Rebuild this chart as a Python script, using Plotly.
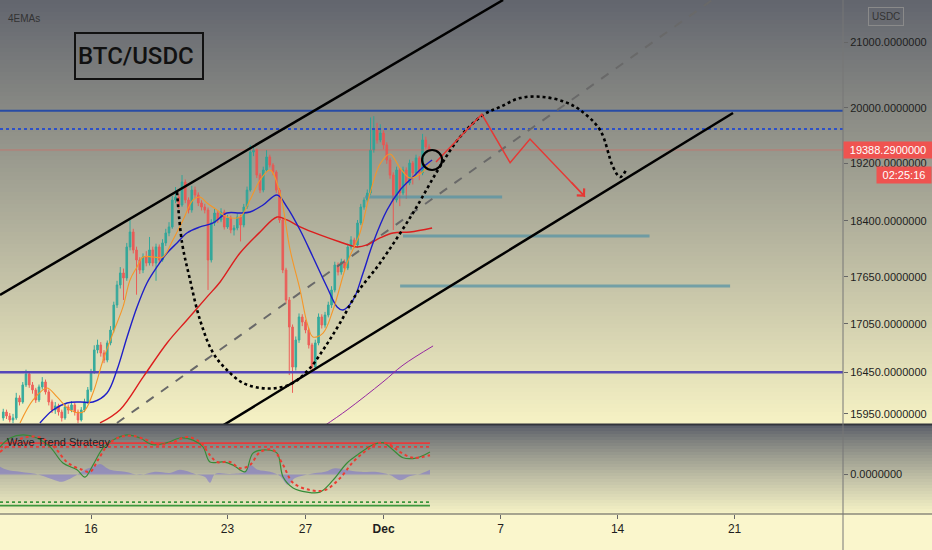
import math
import plotly.graph_objects as go

# 4h candles, x in days (16 = 16 Nov, 31 = 1 Dec)
t_first = 11.5
first_open = 15902
closes = [15972, 15925, 15878, 15902, 16139, 16091, 16295, 16427, 16295, 16235,
          16115, 16271, 16331, 16211, 16091, 15996, 16044, 15972, 15902, 16032,
          15996, 16056, 15972, 15878, 15996, 16091, 16235, 16451, 16722, 16784,
          16685, 16598, 16809, 16971, 17288, 17546, 17702, 17637, 18046, 18247,
          18006, 17873, 17741, 17913, 17833, 18006, 17833, 18046, 17873, 18100,
          18234, 18315, 18684, 18725, 18615, 18934, 18684, 18546, 18822, 18753,
          18643, 18587, 18546, 17873, 18369, 18505, 18410, 18519, 18315, 18437,
          18274, 18301, 18451, 18342, 18587, 18822, 19359, 19388, 19032, 18822,
          19103, 19288, 19174, 19075, 18822, 18410, 17741, 17352, 17009, 16512,
          16846, 17135, 17072, 16971, 16784, 16512, 16809, 17135, 17034, 17160,
          17288, 17481, 17807, 17715, 17846, 17767, 18046, 18140, 18073, 18369,
          18587, 18684, 18781, 19388, 19677, 19532, 19633, 19460, 19245, 19032,
          18684, 19103, 18781, 19103, 18920, 19202, 19061, 19274, 19061, 19532,
          19431, 19388.29]
highs = [16010, 16000, 15960, 15950, 16200, 16170, 16330, 16480, 16460, 16330,
         16260, 16300, 16390, 16360, 16240, 16120, 16090, 16070, 16000, 16070,
         16060, 16100, 16080, 16000, 16030, 16130, 16270, 16490, 16780, 16850,
         16820, 16720, 16840, 17020, 17330, 17600, 17780, 17760, 18100, 18410,
         18290, 18050, 17910, 17960, 17990, 18180, 18050, 18090, 18080, 18150,
         18290, 18380, 18740, 18864, 18770, 19032, 18970, 18720, 18880, 18870,
         18790, 18680, 18630, 18580, 18420, 18560, 18540, 18570, 18550, 18480,
         18470, 18340, 18500, 18480, 18630, 18870, 19460, 19460, 19410, 19060,
         19150, 19388, 19320, 19200, 19100, 18850, 18440, 17770, 17390, 17040,
         16890, 17180, 17170, 17100, 17000, 16810, 16850, 17180, 17170, 17200,
         17330, 17530, 17850, 17840, 17890, 17880, 18090, 18190, 18170, 18410,
         18630, 18720, 18830, 19860, 19880, 19780, 19760, 19670, 19500, 19280,
         19070, 19150, 19130, 19150, 19140, 19250, 19230, 19320, 19300, 19620,
         19580, 19470]
lows = [15870, 15890, 15850, 15840, 15880, 16050, 16070, 16270, 16260, 16190,
        16080, 16090, 16240, 16180, 16050, 15960, 15950, 15930, 15860, 15880,
        15950, 15970, 15930, 15840, 15860, 15970, 16070, 16210, 16430, 16680,
        16640, 16560, 16570, 16780, 16940, 17250, 17500, 17352, 17600, 18000,
        17960, 17420, 17690, 17700, 17790, 17800, 17790, 17600, 17830, 17850,
        18060, 18190, 18290, 18640, 18560, 18590, 18640, 18500, 18510, 18700,
        18600, 18540, 18500, 17481, 17840, 18330, 18370, 18380, 18280, 18290,
        18230, 18200, 18270, 18120, 18310, 18560, 18800, 19300, 18990, 18780,
        18790, 19070, 19140, 19030, 18780, 18370, 17700, 17300, 16415, 16200,
        16470, 16810, 17020, 16930, 16740, 16440, 16480, 16780, 16990, 17000,
        17130, 17250, 17450, 17670, 17680, 17720, 17740, 18010, 18030, 18040,
        18340, 18550, 18650, 18750, 19350, 19480, 19500, 19400, 19190, 18980,
        18274, 18650, 18600, 18750, 18700, 18890, 18900, 19030, 18960, 19030,
        19400, 19360]

# 4 EMAs
ema_fast_t = [12.36, 13.03, 13.74, 14.26, 14.92, 15.59, 16.10, 16.62, 17.13, 17.64,
              18.0, 18.36, 18.67, 19.18, 19.69, 20.20, 20.72, 21.23, 21.59, 21.95,
              22.46, 22.97, 23.64, 24.15, 24.67, 25.18, 25.69, 26.21, 26.72, 27.08,
              27.38, 27.90, 28.41, 29.13, 29.79, 30.31, 30.82, 31.33, 31.85, 32.36,
              32.87, 33.38]
ema_fast = [15843, 16115, 16259, 16151, 15996, 15972, 16199, 16598, 16933, 17263,
            17611, 17781, 17913, 17913, 17913, 18140, 18410, 18684, 18725, 18643,
            18546, 18451, 18451, 18684, 18962, 19103, 18781, 18006, 17481, 17060,
            16884, 16933, 17224, 17833, 18234, 18781, 19188, 19331, 19131, 18990,
            19046, 19188]
ema_mid_t = [13.38, 14.05, 14.77, 15.44, 16.10, 16.82, 17.33, 17.85, 18.36, 18.87,
             19.38, 19.90, 20.41, 20.92, 21.59, 22.26, 22.97, 23.64, 24.15, 24.82,
             25.54, 26.05, 26.72, 27.38, 28.10, 28.62, 28.92, 29.44, 29.95, 30.46,
             31.18, 31.85, 32.51, 33.03, 33.49]
ema_mid = [15843, 15996, 16079, 16091, 16091, 16199, 16476, 16884, 17263, 17572,
           17781, 17966, 18100, 18234, 18315, 18369, 18505, 18505, 18519, 18615,
           18753, 18587, 18274, 17913, 17520, 17263, 17224, 17352, 17702, 18100,
           18546, 18822, 19004, 19146, 19245]
ema_slow_t = [16.46, 17.49, 18.67, 19.90, 20.92, 21.95, 22.62, 23.64, 24.67, 25.54,
              26.05, 26.72, 27.74, 28.77, 29.64, 30.15, 30.82, 31.49, 32.36, 33.49]
ema_slow = [15843, 16000, 16390, 16809, 17097, 17392, 17585, 17966, 18247, 18451,
            18410, 18315, 18207, 18113, 18046, 18073, 18167, 18234, 18247, 18301]
ema_long_t = [27.9, 29.13, 30.97, 32.0, 33.54]
ema_long = [15800, 15996, 16331, 16536, 16772]

# drawings
levels = [19960, 19690, 16450]
upper_t, upper_p = [11.333, 37.13], [17416, 21663]
lower_t, lower_p = [22.77, 48.92], [15815, 19926]
mid_t, mid_p = [17.33, 47.85], [15843, 21663]
teal_t0 = [30.05, 32.0, 31.85]
teal_t1 = [37.08, 44.64, 48.77]
teal_p = [18725, 18193, 17533]
arc_t = [20.41, 20.67, 21.08, 21.59, 22.26, 22.97, 23.79, 24.67, 25.54, 26.36,
         27.23, 28.0, 28.77, 29.64, 30.82, 32.51, 33.79, 34.92, 36.10, 36.97,
         38.0, 39.18, 40.31, 41.08, 42.10, 42.77, 43.13, 43.49]
arc_p = [18794, 18100, 17611, 17097, 16685, 16476, 16319, 16259, 16259, 16319,
         16500, 16759, 17060, 17442, 17833, 18505, 19103, 19575, 19896, 20014,
         20148, 20164, 20088, 19970, 19677, 19145, 19004, 19131]
proj_t = [33.69, 36.04, 37.49, 38.51, 41.33]
proj_p = [19216, 19907, 19206, 19546, 18730]
circle_t, circle_p = [33.49], [19245]

# Wave Trend pane
wt1_t = [11.33, 11.85, 12.51, 13.23, 13.90, 14.56, 15.28, 15.69, 16.10, 16.62,
         17.13, 17.85, 18.51, 19.18, 19.90, 20.56, 21.23, 21.74, 22.10, 22.77,
         23.28, 23.90, 24.31, 25.03, 25.54, 25.85, 26.36, 27.08, 27.74, 28.41,
         29.13, 29.79, 30.46, 30.97, 31.49, 32.0, 32.72, 33.38]
wt1 = [53, 70, 76, 70, 53, 22, 9, -5, 18, 51,
       66, 76, 70, 57, 61, 70, 66, 53, 24, 24,
       18, 5, 41, 47, 41, -5, -26, -34, -34, -11,
       22, 41, 57, 61, 47, 32, 32, 43]
wt2_t = [11.33, 11.95, 12.72, 13.49, 14.15, 14.82, 15.54, 15.95, 16.36, 16.87,
         17.49, 18.15, 18.87, 19.54, 20.20, 20.92, 21.59, 22.10, 22.46, 23.13,
         23.64, 24.15, 24.67, 25.33, 25.85, 26.36, 27.23, 28.0, 28.77, 29.44,
         30.15, 30.82, 31.33, 31.85, 32.51, 33.38]
wt2 = [43, 61, 72, 70, 51, 22, 9, 5, 28, 57,
       72, 74, 66, 57, 62, 72, 62, 37, 24, 24,
       12, 18, 43, 47, 18, -16, -30, -30, -7, 24,
       47, 61, 57, 43, 32, 37]
hist_t = [11.33, 11.69, 12.36, 13.38, 14.15, 14.51, 15.18, 15.69, 16.21, 16.46,
          16.97, 17.74, 18.51, 19.28, 20.05, 20.56, 21.33, 21.85, 22.10, 22.36,
          23.13, 23.90, 24.15, 24.56, 25.18, 25.69, 26.10, 26.46, 27.23, 28.0,
          28.51, 29.03, 29.79, 30.56, 31.33, 31.85, 32.36, 32.87, 33.38]
hist = [15, 9, 5, -1, -11, -14, -3, 9, 16, 20,
        9, 5, -1, 5, 3, 9, 1, -5, -16, 1,
        1, 5, 18, 9, 5, -3, -20, -7, 1, 5,
        12, 9, 5, 5, -1, -11, -3, 1, 9]
ob_levels = [60, 53]
os_levels = [-53, -60]

x_ticks = [16, 23, 27, 31, 37, 43, 49]
x_labels = ['16', '23', '27', '<b>Dec</b>', '7', '14', '21']
y_ticks = [15950, 16450, 17050, 17650, 18400, 19200, 20000, 21000]

FONT = 'Liberation Sans, Arial, sans-serif'
BIG_FONT = 'Roboto, DejaVu Sans, sans-serif'
X_MIN, X_MAX = 11.333, 54.56
W_PAPER = 932 / 843  # paper x of the right edge of the page


def line(x, y, color, width=1.0, dash='solid', yaxis='y', shape='linear'):
    return go.Scatter(x=x, y=y, mode='lines', yaxis=yaxis, hoverinfo='skip',
                      line=dict(color=color, width=width, dash=dash, shape=shape))


t_candles = [t_first + k / 6 for k in range(len(closes))]
opens = [first_open] + closes[:-1]

fig = go.Figure()

# horizontal levels
fig.add_trace(line([X_MIN, X_MAX], [levels[0]] * 2, 'rgb(40,75,165)', 2))
fig.add_trace(line([X_MIN, X_MAX], [levels[1]] * 2, 'rgb(45,80,200)', 2, 'dot'))
fig.add_trace(line([X_MIN, X_MAX], [closes[-1]] * 2, 'rgba(239,83,80,0.45)', 1))
fig.add_trace(line([X_MIN, X_MAX], [levels[2]] * 2, 'rgb(85,70,185)', 2.5))

for a, b, p in zip(teal_t0, teal_t1, teal_p):
    fig.add_trace(line([a, b], [p, p], 'rgba(80,145,165,0.7)', 3))

fig.add_trace(line(mid_t, mid_p, 'rgb(105,105,105)', 2, 'dash'))

fig.add_trace(go.Candlestick(
    x=t_candles, open=opens, high=highs, low=lows, close=closes,
    increasing=dict(line=dict(color='#26a69a', width=1), fillcolor='#26a69a'),
    decreasing=dict(line=dict(color='#ef5350', width=1), fillcolor='#ef5350'),
    opacity=0.9, hoverinfo='skip'))

fig.add_trace(line(upper_t, upper_p, 'black', 2.5))
fig.add_trace(line(lower_t, lower_p, 'black', 2.5))

fig.add_trace(line(ema_long_t, ema_long, 'rgb(150,40,160)', 1, shape='spline'))
fig.add_trace(line(ema_slow_t, ema_slow, 'rgb(220,30,30)', 1.4, shape='spline'))
fig.add_trace(line(ema_mid_t, ema_mid, 'rgb(30,30,200)', 1.4, shape='spline'))
fig.add_trace(line(ema_fast_t, ema_fast, 'rgb(245,150,40)', 1.1, shape='spline'))

fig.add_trace(line(arc_t, arc_p, 'black', 2.6, 'dot', shape='spline'))
fig.add_trace(line(proj_t, proj_p, '#e53935', 1.5))
fig.add_trace(go.Scatter(x=circle_t, y=circle_p, mode='markers', hoverinfo='skip',
                         marker=dict(symbol='circle-open', size=20, color='black',
                                     line=dict(color='black', width=2.2))))

# Wave Trend pane
fig.add_trace(go.Scatter(x=hist_t, y=hist, yaxis='y2', mode='lines', fill='tozeroy',
                         fillcolor='rgba(115,105,210,0.5)', hoverinfo='skip',
                         line=dict(width=0, shape='spline')))
end_t = [X_MIN, wt1_t[-1]]
fig.add_trace(line(end_t, [ob_levels[0]] * 2, 'rgb(230,60,60)', 1.8, yaxis='y2'))
fig.add_trace(line(end_t, [ob_levels[1]] * 2, 'rgb(230,60,60)', 1.8, 'dot', yaxis='y2'))
fig.add_trace(line(end_t, [os_levels[0]] * 2, 'rgb(60,150,60)', 1.8, 'dot', yaxis='y2'))
fig.add_trace(line(end_t, [os_levels[1]] * 2, 'rgb(60,150,60)', 1.8, yaxis='y2'))
fig.add_trace(line(wt1_t, wt1, 'rgb(55,140,55)', 1.2, yaxis='y2', shape='spline'))
fig.add_trace(line(wt2_t, wt2, 'rgb(235,60,50)', 2, 'dot', yaxis='y2', shape='spline'))


def blend(c0, c1, f):
    return 'rgb(%d,%d,%d)' % tuple(round(a + (b - a) * f) for a, b in zip(c0, c1))


H = 514
shapes = []
for i in range(0, 424, 4):
    f = (i + 2) / 424
    shapes.append(dict(type='rect', xref='paper', yref='paper', layer='below',
                       x0=0, x1=W_PAPER, y0=1 - min(i + 5, 424) / H, y1=1 - i / H,
                       fillcolor=blend((98, 101, 110), (246, 242, 196), f), line_width=0))
for i in range(425, 514, 3):
    f = ((i + 1.5 - 425) / 89) ** 0.8
    shapes.append(dict(type='rect', xref='paper', yref='paper', layer='below',
                       x0=0, x1=W_PAPER, y0=1 - min(i + 4, 514) / H, y1=1 - i / H,
                       fillcolor=blend((86, 90, 102), (246, 243, 198), f), line_width=0))
shapes.append(dict(type='line', xref='paper', yref='paper', x0=0, x1=W_PAPER,
                   y0=1 - 424.5 / H, y1=1 - 424.5 / H, line=dict(color='rgb(50,52,60)', width=2)))
shapes.append(dict(type='line', xref='paper', yref='paper', x0=0, x1=W_PAPER,
                   y0=0, y1=0, line=dict(color='#555', width=1)))
shapes.append(dict(type='line', xref='paper', yref='paper', x0=1, x1=1,
                   y0=-36 / H, y1=1, line=dict(color='#777', width=1)))

tick_font = dict(family=FONT, size=11, color='#1e1e1e')
fig.update_layout(
    width=932, height=550,
    margin=dict(l=0, r=89, t=0, b=36),
    paper_bgcolor='rgb(250,246,204)',
    plot_bgcolor='rgba(0,0,0,0)',
    showlegend=False,
    shapes=shapes,
    xaxis=dict(domain=[0, 1], range=[X_MIN, X_MAX], anchor='y2',
               tickvals=x_ticks, ticktext=x_labels,
               tickfont=dict(family=FONT, size=12, color='#1e1e1e'),
               showgrid=False, zeroline=False, showline=False,
               ticks='outside', ticklen=4, tickcolor='#666',
               rangeslider=dict(visible=False)),
    yaxis=dict(domain=[1 - 424 / H, 1], type='log', side='right', anchor='x',
               range=[math.log10(15831), math.log10(21663)],
               tickvals=y_ticks, ticktext=['%.7f' % v for v in y_ticks],
               tickfont=tick_font, showgrid=False, zeroline=False, showline=False,
               ticks='outside', ticklen=4, tickcolor='#666'),
    yaxis2=dict(domain=[0, 1 - 425 / H], side='right', anchor='x', range=[-76, 95],
                tickvals=[0], ticktext=['0.0000000'], tickfont=tick_font,
                showgrid=False, zeroline=False, showline=False,
                ticks='outside', ticklen=4, tickcolor='#666'),
)

fig.add_annotation(xref='paper', yref='paper', x=6 / 843, y=1 - 19 / H,
                   xanchor='left', yanchor='middle', showarrow=False, text='4EMAs',
                   font=dict(family=FONT, size=10, color='#333'))
fig.add_annotation(xref='paper', yref='paper', x=74 / 843, y=1 - 32 / H,
                   xanchor='left', yanchor='top', showarrow=False, text='BTC/USDC',
                   width=122, height=40, align='left', valign='middle',
                   bordercolor='#111', borderwidth=2, borderpad=2,
                   font=dict(family=BIG_FONT, size=24, color='#111', weight=500))
fig.add_annotation(xref='paper', yref='paper', x=5 / 843, y=1 - 442 / H,
                   xanchor='left', yanchor='middle', showarrow=False,
                   text='Wave Trend Strategy', font=dict(family=FONT, size=11, color='#222'))
fig.add_annotation(xref='paper', yref='y', x=1, y=math.log10(closes[-1]),
                   xanchor='left', yanchor='middle', showarrow=False,
                   text='19388.2900000', bgcolor='#ef5350', width=84, borderpad=2,
                   font=dict(family=FONT, size=11, color='white'))
fig.add_annotation(xref='paper', yref='paper', x=W_PAPER, y=1 - 175 / H,
                   xanchor='right', yanchor='middle', showarrow=False,
                   text='02:25:16', bgcolor='#ef5350', width=50, borderpad=2,
                   font=dict(family=FONT, size=11, color='white'))
fig.add_annotation(xref='paper', yref='paper', x=886 / 843, y=1 - 16 / H,
                   xanchor='center', yanchor='middle', showarrow=False, text='USDC',
                   bordercolor='#8a8a8a', borderwidth=1, borderpad=3,
                   font=dict(family=FONT, size=10, color='#333'))
# arrow head of the projected path
fig.add_annotation(xref='x', yref='y', x=proj_t[-1], y=math.log10(proj_p[-1]),
                   ax=-15, ay=-16, text='', showarrow=True, arrowhead=4,
                   arrowsize=1.3, arrowwidth=1.5, arrowcolor='#e53935')

fig.write_html("out.html", config={'displayModeBar': False},
               post_script="document.body.style.margin='0';")
